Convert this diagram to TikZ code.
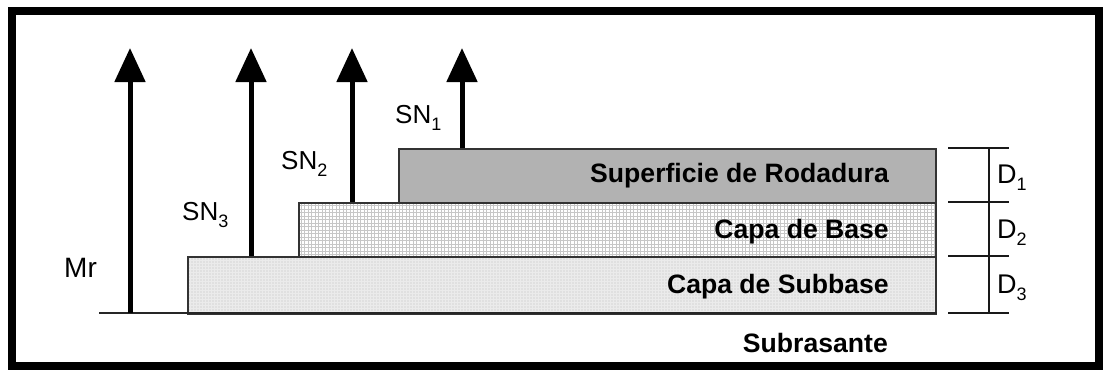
\documentclass[tikz,border=0pt]{standalone}
\usepackage{fontspec}
\setmainfont{Liberation Sans}
\usetikzlibrary{arrows.meta,patterns.meta}
\tikzdeclarepattern{name=finegrid,type=uncolored,bounding box={(-0.5pt,-0.5pt) and (4pt,4pt)},tile size={(3.5pt,3.5pt)},code={\draw[line width=0.5pt] (0,0)--(3.5pt,0) (0,0)--(0,3.5pt);}}
\tikzdeclarepattern{name=finedots,type=uncolored,bounding box={(-1pt,-1pt) and (3pt,3pt)},tile size={(3pt,3pt)},code={\fill (0,0) circle (0.7pt);}}
\newcommand\lowsub[1]{\raisebox{-0.28em}{\fontsize{18}{18}\selectfont #1}}
\begin{document}
\begin{tikzpicture}[x=1pt,y=-1pt,
  layerbox/.style={draw=black!80,line width=1.8pt,inner sep=0pt,anchor=north east,minimum height=54pt},
  lbl/.style={font=\bfseries\fontsize{26.6}{30}\selectfont,inner sep=0pt,anchor=base east},
  snlbl/.style={font=\fontsize{26}{30}\selectfont,inner sep=0pt,anchor=base west},
  dlbl/.style={font=\fontsize{27}{30}\selectfont,inner sep=0pt,anchor=base west},
  uparrow/.style={line width=5pt,-{Triangle[width=30pt,length=34pt]}},
  dimline/.style={line width=1.5pt,black!90}]
\useasboundingbox (0,0) rectangle (1103,370);
\fill[white] (0,0) rectangle (1103,370);
\draw[line width=8pt] (12,11) rectangle (1099,366);
% layers
\node[layerbox,minimum width=748pt,minimum height=57pt,preaction={fill=black!8},pattern=finedots,pattern color=black!25] (sub) at (937,256) {};
\node[layerbox,minimum width=637pt,preaction={fill=white},pattern=finegrid,pattern color=black!22] (base) at (937,202) {};
\node[layerbox,minimum width=537pt,fill=black!30] (sup) at (937,148) {};
% ground
\coordinate (g0) at (99,313);
\coordinate (g1) at (937,313);
\draw[line width=2pt,black!85] (g0) -- (g1);
% layer labels
\node[lbl] (tsup) at (889,182) {Superficie de Rodadura};
\node[lbl] (tbase) at (889,238) {Capa de Base};
\node[lbl] (tsub) at (889,293) {Capa de Subbase};
\node[lbl] (tsr) at (888,352) {Subrasante};
% arrows
\coordinate (a0b) at (130,313); \coordinate (a0t) at (130,48);
\coordinate (a3b) at (251,256); \coordinate (a3t) at (251,48);
\coordinate (a2b) at (352,202); \coordinate (a2t) at (352,48);
\coordinate (a1b) at (462,148); \coordinate (a1t) at (462,48);
\draw[uparrow] (a0b) -- (a0t);
\draw[uparrow] (a3b) -- (a3t);
\draw[uparrow] (a2b) -- (a2t);
\draw[uparrow] (a1b) -- (a1t);
% arrow labels
\node[snlbl,font=\fontsize{28}{30}\selectfont] (mr) at (64,277) {Mr};
\node[snlbl] (sn3) at (182,220) {SN\lowsub{3}};
\node[snlbl] (sn2) at (281,169) {SN\lowsub{2}};
\node[snlbl] (sn1) at (395,123) {SN\lowsub{1}};
% dimensions
\coordinate (t1a) at (948,148); \coordinate (t1b) at (1009,148);
\coordinate (t2a) at (948,202); \coordinate (t2b) at (1009,202);
\coordinate (t3a) at (948,256); \coordinate (t3b) at (1009,256);
\coordinate (t4a) at (948,313); \coordinate (t4b) at (1009,313);
\coordinate (vt) at (989,148); \coordinate (vb) at (989,313);
\draw[dimline] (t1a) -- (t1b);
\draw[dimline] (t2a) -- (t2b);
\draw[dimline] (t3a) -- (t3b);
\draw[dimline] (t4a) -- (t4b);
\draw[dimline] (vt) -- (vb);
\node[dlbl] (d1) at (997,183) {D\lowsub{1}};
\node[dlbl] (d2) at (997,238) {D\lowsub{2}};
\node[dlbl] (d3) at (997,293) {D\lowsub{3}};
\end{tikzpicture}
\end{document}
